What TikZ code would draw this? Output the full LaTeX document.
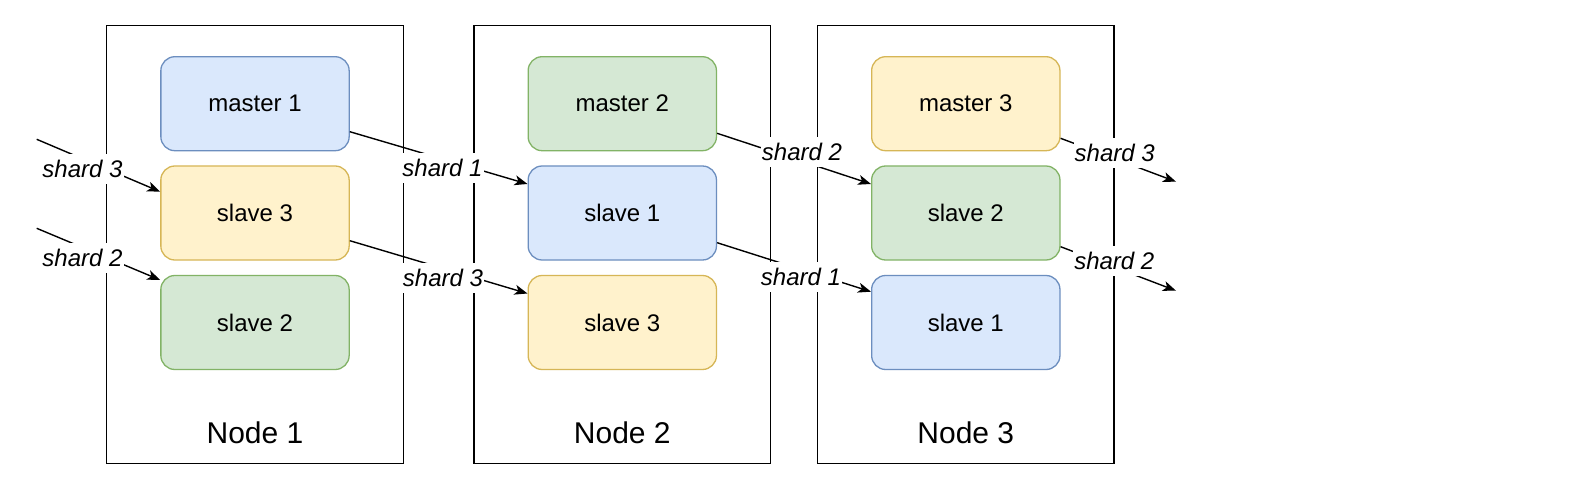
\documentclass[tikz,border=0pt]{standalone}
\usepackage{fontspec}
\setmainfont{Liberation Sans}
\usetikzlibrary{arrows.meta}
\definecolor{bfill}{HTML}{DAE8FC}\definecolor{bline}{HTML}{6C8EBF}
\definecolor{yfill}{HTML}{FFF2CC}\definecolor{yline}{HTML}{D6B656}
\definecolor{gfill}{HTML}{D5E8D4}\definecolor{gline}{HTML}{82B366}
\tikzset{
  outerbox/.style={draw=black, line width=1.5pt, fill=white, minimum width=296.6pt, minimum height=437.6pt, inner sep=0pt},
  shardbox/.style={rounded corners=14pt, line width=1.3pt, minimum width=188.3pt, minimum height=94pt, inner sep=0pt, font=\fontsize{24}{28}\selectfont},
  bluebox/.style={shardbox, draw=bline, fill=bfill},
  yellowbox/.style={shardbox, draw=yline, fill=yfill},
  greenbox/.style={shardbox, draw=gline, fill=gfill},
  nodetitle/.style={font=\fontsize{30}{34}\selectfont, inner sep=0pt},
  link/.style={draw=black, line width=1.4pt, -{Stealth[length=13pt,width=10pt,inset=3.5pt]}},
  lab/.style={fill=white, inner xsep=1pt, inner ysep=6pt, font=\fontsize{24}{28}\selectfont\itshape},
}
\begin{document}
\begin{tikzpicture}[x=1pt,y=-1pt]
\useasboundingbox (0,0) rectangle (1574,489);
% outer nodes
\node[outerbox] (N1) at (255,244.5) {};
\node[outerbox] (N2) at (622.3,244.5) {};
\node[outerbox] (N3) at (965.8,244.5) {};
\node[nodetitle] (N1t) at (255,432.5) {Node 1};
\node[nodetitle] (N2t) at (622.3,432.5) {Node 2};
\node[nodetitle] (N3t) at (965.8,432.5) {Node 3};
% inner boxes
\node[bluebox]   (n1m)  at (255,103.7) {master 1};
\node[yellowbox] (n1s3) at (255,213) {slave 3};
\node[greenbox]  (n1s2) at (255,322.5) {slave 2};
\node[greenbox]  (n2m)  at (622.3,103.7) {master 2};
\node[bluebox]   (n2s1) at (622.3,213) {slave 1};
\node[yellowbox] (n2s3) at (622.3,322.5) {slave 3};
\node[yellowbox] (n3m)  at (965.8,103.7) {master 3};
\node[greenbox]  (n3s2) at (965.8,213) {slave 2};
\node[bluebox]   (n3s1) at (965.8,322.5) {slave 1};
% free ends
\coordinate (i1) at (36.7,139.3);
\coordinate (i2) at (36.7,228.3);
\coordinate (o1) at (1176,181.7);
\coordinate (o2) at (1176,290.7);
% connectors
\draw[link] (i1) -- (n1s3.west |- 0,191.7);
\draw[link] (i2) -- (n1s2.west |- 0,280);
\draw[link] (n1m.east |- 0,131.7) -- (n2s1.west |- 0,184);
\draw[link] (n1s3.east |- 0,240.7) -- (n2s3.west |- 0,293.5);
\draw[link] (n2m.east |- 0,133.3) -- (n3s2.west |- 0,184);
\draw[link] (n2s1.east |- 0,242.7) -- (n3s1.west |- 0,291.7);
\draw[link] (n3m.east |- 0,138.3) -- (o1);
\draw[link] (n3s2.east |- 0,246.7) -- (o2);
% labels
\node[lab] (l1) at (82.5,168.8) {shard 3};
\node[lab] (l2) at (82.5,258) {shard 2};
\node[lab] (l3) at (442.5,167.8) {shard 1};
\node[lab] (l4) at (443,277.8) {shard 3};
\node[lab] (l5) at (802,151.7) {shard 2};
\node[lab] (l6) at (801,277) {shard 1};
\node[lab] (l7) at (1114.7,152.8) {shard 3};
\node[lab] (l8) at (1114.3,261.3) {shard 2};
\end{tikzpicture}
\end{document}
